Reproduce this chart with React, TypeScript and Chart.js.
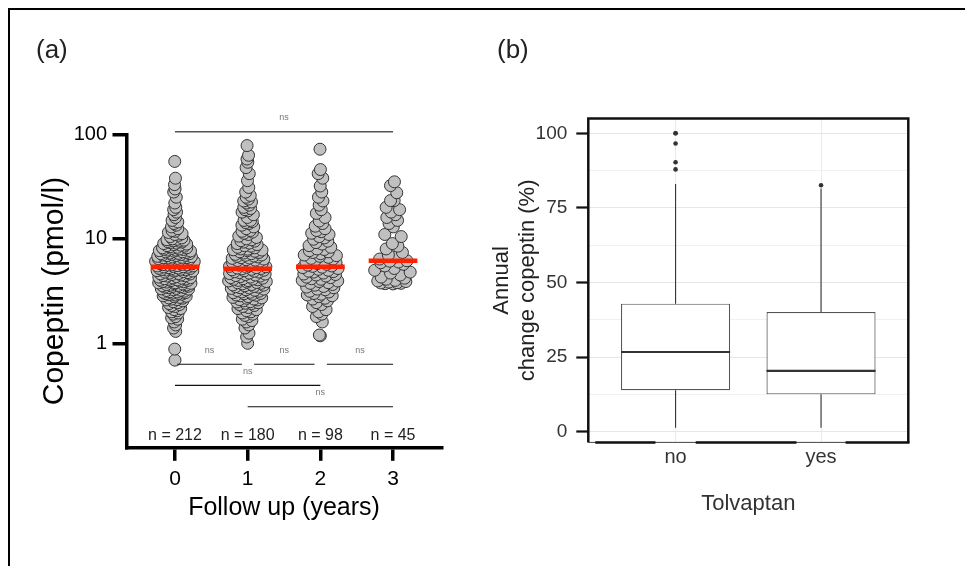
import React, { useEffect, useRef } from 'react';
import { Chart, registerables } from 'chart.js';

Chart.register(...registerables);

const FONT = '"Liberation Sans", Arial, Helvetica, sans-serif';

// ---------- Panel (a) data ----------
const followUpYears = [0, 1, 2, 3];
const followUpLabels = ['0', '1', '2', '3'];
const groupCounts = ['n = 212', 'n = 180', 'n = 98', 'n = 45'];
const copeptinTicks = [1, 10, 100];

const year0 = [
  0.69, 0.88,
  1.3, 1.4, 1.5,
  1.6, 1.7, 1.75, 1.8, 1.9, 1.95,
  2.0, 2.05, 2.1, 2.15, 2.2, 2.25, 2.3, 2.35, 2.4, 2.45, 2.5,
  2.55, 2.6, 2.62, 2.65, 2.7, 2.72, 2.75, 2.8, 2.82, 2.85, 2.9, 2.92, 2.95, 2.98,
  3.0, 3.02, 3.05, 3.08, 3.1, 3.12, 3.15, 3.2, 3.22, 3.25, 3.3, 3.32, 3.35, 3.4, 3.42, 3.45, 3.48,
  3.5, 3.52, 3.55, 3.58, 3.6, 3.62, 3.65, 3.7, 3.72, 3.75, 3.78, 3.8, 3.85, 3.88, 3.9, 3.95, 3.98,
  4.0, 4.02, 4.05, 4.1, 4.12, 4.15, 4.2, 4.22, 4.25, 4.3, 4.35, 4.4, 4.42, 4.45, 4.5, 4.55, 4.6, 4.62, 4.65, 4.7, 4.75, 4.8, 4.85, 4.9, 4.92, 4.95,
  5.0, 5.02, 5.05, 5.08, 5.1, 5.15, 5.2, 5.22, 5.25, 5.3, 5.35, 5.38,
  5.4, 5.45, 5.5, 5.5, 5.55, 5.6, 5.62, 5.65, 5.7, 5.7, 5.75, 5.8, 5.85, 5.9, 5.92, 5.95,
  6.0, 6.0, 6.05, 6.1, 6.15, 6.2, 6.25, 6.3, 6.3, 6.35, 6.4, 6.45, 6.5, 6.55, 6.6, 6.6, 6.65, 6.7, 6.75, 6.8, 6.9, 6.9, 6.95,
  7.0, 7.05, 7.1, 7.2, 7.2, 7.25, 7.3, 7.4, 7.5, 7.5, 7.6, 7.65, 7.7, 7.8, 7.8, 7.9, 7.95,
  8.0, 8.1, 8.2, 8.2, 8.3, 8.4, 8.5, 8.6, 8.7, 8.8, 8.9, 9.0, 9.1, 9.2, 9.3, 9.4, 9.5, 9.6, 9.7, 9.8, 9.9, 10.0,
  10.2, 10.5, 10.8, 11.0, 11.2, 11.5, 11.8, 12.0,
  12.5, 13.0, 13.5, 14.0, 14.5, 15.0,
  16, 17, 18, 19, 20,
  22, 25, 28,
  30, 33, 38, 55,
];

const year1 = [
  1.0, 1.15, 1.25, 1.4,
  1.5, 1.6, 1.65, 1.7, 1.8, 1.85, 1.9, 1.95,
  2.0, 2.05, 2.1, 2.15, 2.2, 2.25, 2.3, 2.35, 2.4, 2.42, 2.45, 2.48,
  2.5, 2.55, 2.6, 2.62, 2.65, 2.7, 2.72, 2.75, 2.8, 2.85, 2.88, 2.9, 2.95, 2.98,
  3.0, 3.05, 3.08, 3.1, 3.15, 3.2, 3.22, 3.25, 3.3, 3.35, 3.38, 3.4, 3.45, 3.48,
  3.5, 3.55, 3.6, 3.62, 3.65, 3.7, 3.75, 3.8, 3.82, 3.85, 3.9, 3.95, 3.98,
  4.0, 4.05, 4.1, 4.12, 4.15, 4.2, 4.25, 4.3, 4.35, 4.4, 4.45, 4.5, 4.55, 4.6, 4.65, 4.7, 4.75, 4.8, 4.85, 4.9, 4.95, 5.0, 5.05, 5.1, 5.15,
  5.2, 5.25, 5.3, 5.35, 5.4, 5.45, 5.5, 5.6, 5.65, 5.7, 5.75, 5.8, 5.9, 5.95,
  6.0, 6.05, 6.1, 6.2, 6.25, 6.3, 6.4, 6.5, 6.55, 6.6, 6.7, 6.8, 6.85, 6.95,
  7.0, 7.1, 7.2, 7.3, 7.4, 7.5, 7.6, 7.7, 7.8, 7.85, 7.95,
  8.0, 8.2, 8.3, 8.5, 8.6, 8.8, 9.0, 9.1, 9.3, 9.5, 9.6, 9.8, 10.0,
  10.3, 10.6, 11.0, 11.3, 11.6, 11.8, 12.0,
  12.5, 13.0, 13.5, 14.0, 14.3, 14.6, 15.0, 15.0,
  16, 17, 18, 18.5, 19, 19.5, 20,
  21, 22, 22.5, 23, 24, 25, 26, 28,
  31, 36, 42, 48, 54,
  58, 63, 78,
];

const year2 = [
  1.18, 1.2,
  1.6, 1.8, 1.9,
  2.0, 2.1, 2.25, 2.35, 2.45,
  2.55, 2.65, 2.7, 2.8, 2.85, 2.9, 2.95,
  3.0, 3.1, 3.15, 3.25, 3.3, 3.4, 3.45,
  3.5, 3.6, 3.65, 3.75, 3.8, 3.9, 3.95,
  4.0, 4.1, 4.15, 4.25, 4.3, 4.4, 4.5, 4.55, 4.6, 4.7, 4.8, 4.85, 4.9, 5.0, 5.1, 5.2, 5.3, 5.35,
  5.45, 5.5, 5.6, 5.7, 5.8, 5.9,
  6.0, 6.1, 6.25, 6.4, 6.5, 6.65, 6.8, 6.9,
  7.0, 7.2, 7.4, 7.5, 7.7, 7.9,
  8.0, 8.3, 8.6, 8.9, 9.2, 9.5, 9.9,
  10.2, 10.5, 11.0, 11.3, 11.7, 12.0,
  12.5, 13.2, 14.0, 14.8,
  16, 17.5, 19,
  21, 23, 25, 28,
  32, 38, 42, 46,
  72,
];

const year3 = [
  3.7, 3.72, 3.75, 3.78, 3.8, 3.85, 3.9, 3.95, 4.0, 4.1, 4.2, 4.3,
  4.5, 4.7, 4.8, 5.0, 5.2, 5.5,
  5.7, 5.9, 6.0, 6.1,
  6.16,
  6.4, 6.7, 7.0, 7.4, 8.0, 8.5, 9.0, 10.5, 11.0,
  13, 14, 15, 16, 17, 18, 19, 20,
  23.2, 23.2, 27.6, 32.3, 35.1,
];

const yearValues = [year0, year1, year2, year3];
const copeptinMedians = [5.4, 5.16, 5.4, 6.16];

// significance brackets (x from / to in follow-up units, level in pmol/l)
const bracketFrom = [0.03, 1.09, 2.09, 0, 1, 0];
const bracketTo = [0.92, 1.92, 3.0, 2, 3, 3];
const bracketLevel = [0.63, 0.63, 0.63, 0.396, 0.247, 106];
const bracketText = ['ns', 'ns', 'ns', 'ns', 'ns', 'ns'];
const countLabelLevel = 0.13;

// ---------- Panel (b) data ----------
const tolvaptanGroups = ['no', 'yes'];
const whiskerLow = [1.3, 1.3];
const boxQ1 = [13.9, 12.5];
const boxMedian = [26.7, 20.4];
const boxQ3 = [42.9, 40.1];
const whiskerHigh = [83.0, 81.5];
const outliersNo = [87.9, 90.3, 96.6, 100, 100];
const outliersYes = [82.6];
const changeTicks = [0, 25, 50, 75, 100];

// ---------- layout helpers (quasirandom swarm) ----------
function vdc(n: number) {
  let v = 0;
  let denom = 1;
  while (n > 0) {
    denom *= 2;
    v += (n % 2) / denom;
    n = Math.floor(n / 2);
  }
  return v;
}

function quasiOffsets(values: number[], width: number) {
  const logs = values.map((v) => Math.log10(v));
  const n = logs.length;
  const mean = logs.reduce((a, b) => a + b, 0) / n;
  const sd = Math.sqrt(logs.reduce((a, b) => a + (b - mean) ** 2, 0) / (n - 1));
  const sorted = [...logs].sort((a, b) => a - b);
  const q = (p: number) => {
    const h = (n - 1) * p;
    const lo = Math.floor(h);
    const hi = Math.min(lo + 1, n - 1);
    return sorted[lo] + (h - lo) * (sorted[hi] - sorted[lo]);
  };
  const iqr = q(0.75) - q(0.25);
  const bw = 0.9 * Math.min(sd, iqr / 1.34) * Math.pow(n, -0.2);
  const dens = logs.map((y) => logs.reduce((s, v) => s + Math.exp(-0.5 * ((y - v) / bw) ** 2), 0));
  const maxD = Math.max(...dens);
  const order = logs.map((_, i) => i).sort((a, b) => logs[a] - logs[b]);
  const offs: number[] = new Array(n).fill(0);
  order.forEach((idx, r) => {
    offs[idx] = (vdc(r + 1) - 0.5) * 2 * width * (dens[idx] / maxD);
  });
  return offs;
}

const SWARM_WIDTH = 0.27;
const MEDIAN_HALF = 0.335;
const BOX_HALF = 0.375;

function configA(): any {
  const pointSets = yearValues.map((vals, g) => {
    const offs = quasiOffsets(vals, SWARM_WIDTH);
    return {
      type: 'scatter',
      label: 'year ' + followUpYears[g],
      data: vals.map((v, i) => ({ x: followUpYears[g] + offs[i], y: v })),
      pointRadius: 6,
      pointBackgroundColor: '#c0c0c0',
      pointBorderColor: '#333333',
      pointBorderWidth: 1,
      showLine: false,
      order: 2,
    };
  });
  const medianSets = copeptinMedians.map((m, g) => ({
    type: 'line',
    label: 'median ' + g,
    data: [
      { x: followUpYears[g] - MEDIAN_HALF, y: m },
      { x: followUpYears[g] + MEDIAN_HALF, y: m },
    ],
    borderColor: '#ff2200',
    borderWidth: 4.5,
    borderCapStyle: 'butt',
    pointRadius: 0,
    order: 1,
  }));

  const annot = {
    id: 'annotA',
    afterDatasetsDraw(chart: any) {
      const { ctx } = chart;
      const x = chart.scales.x;
      const y = chart.scales.y;
      ctx.save();
      bracketFrom.forEach((s, i) => {
        const x1 = x.getPixelForValue(s);
        const x2 = x.getPixelForValue(bracketTo[i]);
        const py = y.getPixelForValue(bracketLevel[i]);
        const top = bracketLevel[i] > 100;
        ctx.strokeStyle = top ? '#555' : '#111';
        ctx.lineWidth = top ? 1.5 : 1.1;
        ctx.beginPath();
        ctx.moveTo(x1, py);
        ctx.lineTo(x2, py);
        ctx.stroke();
        ctx.fillStyle = '#777';
        ctx.font = '9px ' + FONT;
        ctx.textAlign = 'center';
        ctx.textBaseline = 'middle';
        ctx.fillText(bracketText[i], (x1 + x2) / 2, py - 14);
      });
      ctx.fillStyle = '#222';
      ctx.font = '16px ' + FONT;
      ctx.textAlign = 'center';
      ctx.textBaseline = 'middle';
      groupCounts.forEach((t, g) => {
        ctx.fillText(t, x.getPixelForValue(followUpYears[g]), y.getPixelForValue(countLabelLevel));
      });
      ctx.restore();
    },
  };

  return {
    type: 'scatter',
    data: { datasets: [...medianSets, ...pointSets] },
    options: {
      responsive: false,
      animation: false,
      events: [],
      layout: { padding: { left: 0, top: 134.3, right: 38.5, bottom: 0 } },
      plugins: { legend: { display: false }, tooltip: { enabled: false } },
      scales: {
        x: {
          type: 'linear',
          min: -0.667,
          max: 3.667,
          afterBuildTicks: (s: any) => {
            s.ticks = followUpYears.map((v) => ({ value: v }));
          },
          afterFit: (s: any) => {
            s.height = 118.2;
          },
          grid: {
            display: true,
            drawOnChartArea: false,
            drawTicks: true,
            tickLength: 13,
            tickWidth: 3.5,
            tickColor: '#000',
            lineWidth: 3.5,
            color: '#000',
          },
          border: { display: true, width: 3.5, color: '#000' },
          ticks: {
            autoSkip: false,
            maxRotation: 0,
            padding: 6,
            color: '#000',
            font: { family: FONT, size: 21 },
            callback: (_v: any, i: number) => followUpLabels[i],
          },
          title: {
            display: true,
            text: 'Follow up (years)',
            color: '#000',
            font: { family: FONT, size: 25 },
            padding: { top: 0, bottom: 43 },
          },
        },
        y: {
          type: 'logarithmic',
          min: 0.1,
          max: 100,
          afterBuildTicks: (s: any) => {
            s.ticks = copeptinTicks.map((v) => ({ value: v }));
          },
          afterFit: (s: any) => {
            s.width = 126.5;
          },
          grid: {
            display: true,
            drawOnChartArea: false,
            drawTicks: true,
            tickLength: 14,
            tickWidth: 3.5,
            tickColor: '#000',
            lineWidth: 3.5,
            color: '#000',
          },
          border: { display: true, width: 3.5, color: '#000' },
          ticks: {
            autoSkip: false,
            padding: 5.5,
            color: '#000',
            font: { family: FONT, size: 20 },
            callback: (v: any) => String(v),
          },
          title: {
            display: true,
            text: 'Copeptin (pmol/l)',
            color: '#000',
            font: { family: FONT, size: 30 },
            padding: { top: 37, bottom: 0 },
          },
        },
      },
    },
    plugins: [annot],
  };
}

function configB(): any {
  const minorTicks = changeTicks.slice(1).map((v, i) => (v + changeTicks[i]) / 2);
  const allTicks = [...changeTicks, ...minorTicks].sort((a, b) => a - b);
  const isMajor = (v: number) => changeTicks.includes(v);

  const whiskerSets: any[] = [];
  tolvaptanGroups.forEach((_, i) => {
    whiskerSets.push({
      type: 'line',
      data: [{ x: i + 1, y: whiskerLow[i] }, { x: i + 1, y: boxQ1[i] }],
      borderColor: '#333',
      borderWidth: 1.1,
      pointRadius: 0,
      order: 2,
    });
    whiskerSets.push({
      type: 'line',
      data: [{ x: i + 1, y: boxQ3[i] }, { x: i + 1, y: whiskerHigh[i] }],
      borderColor: '#333',
      borderWidth: 1.1,
      pointRadius: 0,
      order: 2,
    });
  });
  const medianSets = tolvaptanGroups.map((_, i) => ({
    type: 'line',
    data: [
      { x: i + 1 - BOX_HALF, y: boxMedian[i] },
      { x: i + 1 + BOX_HALF, y: boxMedian[i] },
    ],
    borderColor: '#333',
    borderWidth: 2.2,
    borderCapStyle: 'butt',
    pointRadius: 0,
    order: 1,
  }));
  const outlierSets = [outliersNo, outliersYes].map((arr, i) => ({
    type: 'scatter',
    data: arr.map((v) => ({ x: i + 1, y: v })),
    pointRadius: 2.3,
    pointBackgroundColor: '#333',
    pointBorderWidth: 0,
    showLine: false,
    order: 0,
  }));

  const frame = {
    id: 'frameB',
    afterDraw(chart: any) {
      const { ctx, chartArea } = chart;
      const x = chart.scales.x;
      const { left, right, top, bottom } = chartArea;
      ctx.save();
      ctx.strokeStyle = '#111';
      ctx.lineWidth = 2.5;
      ctx.beginPath();
      ctx.moveTo(left, bottom);
      ctx.lineTo(left, top);
      ctx.lineTo(right, top);
      ctx.lineTo(right, bottom);
      ctx.stroke();
      // bottom edge: thin rule, thick segments interrupted under the category labels
      ctx.font = '20px ' + FONT;
      const gaps = tolvaptanGroups.map((t, i) => {
        const cx = x.getPixelForValue(i + 1);
        const hw = ctx.measureText(t).width / 2 + 9;
        return [cx - hw, cx + hw];
      });
      ctx.lineWidth = 1;
      ctx.strokeStyle = '#444';
      ctx.beginPath();
      ctx.moveTo(left, bottom);
      ctx.lineTo(right, bottom);
      ctx.stroke();
      ctx.lineWidth = 2.5;
      ctx.strokeStyle = '#111';
      let start = left + 7;
      ctx.beginPath();
      gaps.forEach(([g1, g2]) => {
        ctx.moveTo(start, bottom);
        ctx.lineTo(g1, bottom);
        start = g2;
      });
      ctx.moveTo(start, bottom);
      ctx.lineTo(right + 1.25, bottom);
      ctx.stroke();
      ctx.restore();
    },
  };

  return {
    type: 'bar',
    data: {
      datasets: [
        {
          type: 'bar',
          data: tolvaptanGroups.map((_, i) => ({ x: i + 1, y: [boxQ1[i], boxQ3[i]] })),
          backgroundColor: '#ffffff',
          borderColor: '#555',
          borderWidth: 1.2,
          borderSkipped: false,
          barPercentage: 0.75,
          categoryPercentage: 1,
          order: 3,
        },
        ...whiskerSets,
        ...medianSets,
        ...outlierSets,
      ],
    },
    options: {
      responsive: false,
      animation: false,
      events: [],
      layout: { padding: { left: 0, top: 118.4, right: 56.7, bottom: 0 } },
      plugins: { legend: { display: false }, tooltip: { enabled: false } },
      scales: {
        x: {
          type: 'linear',
          min: 0.4,
          max: 2.6,
          offset: false,
          afterBuildTicks: (s: any) => {
            s.ticks = tolvaptanGroups.map((_, i) => ({ value: i + 1 }));
          },
          afterFit: (s: any) => {
            s.height = 123.6;
          },
          grid: {
            display: true,
            offset: false,
            drawOnChartArea: true,
            drawTicks: false,
            color: '#ebebeb',
            lineWidth: 1,
          },
          border: { display: false },
          ticks: {
            autoSkip: false,
            maxRotation: 0,
            padding: 3,
            color: '#333',
            font: { family: FONT, size: 20 },
            callback: (_v: any, i: number) => tolvaptanGroups[i],
          },
          title: {
            display: true,
            text: 'Tolvaptan',
            color: '#333',
            font: { family: FONT, size: 22 },
            padding: { top: 0, bottom: 48.8 },
          },
        },
        y: {
          type: 'linear',
          min: -3.6,
          max: 105,
          afterBuildTicks: (s: any) => {
            s.ticks = allTicks.map((v) => ({ value: v }));
          },
          afterFit: (s: any) => {
            s.width = 108.3;
          },
          grid: {
            display: true,
            drawOnChartArea: true,
            drawTicks: true,
            tickLength: 12,
            tickWidth: 2.2,
            lineWidth: 1,
            color: (c: any) => (c.tick && isMajor(c.tick.value) ? '#e6e6e6' : '#f1f1f1'),
            tickColor: (c: any) => (c.tick && isMajor(c.tick.value) ? '#111' : 'rgba(0,0,0,0)'),
          },
          border: { display: false },
          ticks: {
            autoSkip: false,
            padding: 9,
            color: '#333',
            font: { family: FONT, size: 19 },
            callback: (v: any) => (isMajor(v) ? String(v) : ''),
          },
          title: {
            display: true,
            text: ['Annual', 'change copeptin (%)'],
            color: '#222',
            font: { family: FONT, size: 22 },
            padding: { top: 8.5, bottom: 0 },
          },
        },
      },
    },
    plugins: [frame],
  };
}

export default function App() {
  const refA = useRef<HTMLCanvasElement>(null);
  const refB = useRef<HTMLCanvasElement>(null);

  useEffect(() => {
    const a = new Chart(refA.current as HTMLCanvasElement, configA());
    const b = new Chart(refB.current as HTMLCanvasElement, configB());
    return () => {
      a.destroy();
      b.destroy();
    };
  }, []);

  return (
    <div
      style={{
        position: 'absolute',
        left: 0,
        top: 0,
        width: 965,
        height: 566,
        overflow: 'hidden',
        background: '#fff',
        fontFamily: FONT,
      }}
    >
      <div
        style={{
          position: 'absolute',
          left: 8,
          top: 8,
          width: 1200,
          height: 1200,
          borderTop: '2px solid #000',
          borderLeft: '2px solid #000',
        }}
      />
      <canvas
        ref={refA}
        width={480}
        height={566}
        style={{ position: 'absolute', left: 0, top: 0, width: 480, height: 566 }}
      />
      <canvas
        ref={refB}
        width={485}
        height={566}
        style={{ position: 'absolute', left: 480, top: 0, width: 485, height: 566 }}
      />
      <div style={{ position: 'absolute', left: 36, top: 34, fontSize: 26, color: '#222', lineHeight: 'normal' }}>
        (a)
      </div>
      <div style={{ position: 'absolute', left: 497, top: 34, fontSize: 26, color: '#222', lineHeight: 'normal' }}>
        (b)
      </div>
    </div>
  );
}
